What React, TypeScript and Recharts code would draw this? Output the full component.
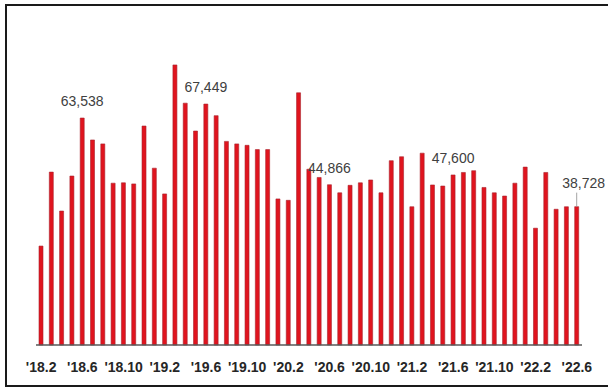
import { BarChart, Bar, XAxis, YAxis, LabelList } from "recharts";

// monthly series, Feb 2018 – Jun 2022
const months = [
  "'18.2", "'18.3", "'18.4", "'18.5", "'18.6", "'18.7", "'18.8", "'18.9", "'18.10", "'18.11", "'18.12",
  "'19.1", "'19.2", "'19.3", "'19.4", "'19.5", "'19.6", "'19.7", "'19.8", "'19.9", "'19.10", "'19.11", "'19.12",
  "'20.1", "'20.2", "'20.3", "'20.4", "'20.5", "'20.6", "'20.7", "'20.8", "'20.9", "'20.10", "'20.11", "'20.12",
  "'21.1", "'21.2", "'21.3", "'21.4", "'21.5", "'21.6", "'21.7", "'21.8", "'21.9", "'21.10", "'21.11", "'21.12",
  "'22.1", "'22.2", "'22.3", "'22.4", "'22.5", "'22.6",
];

const values = [
  27700, 48400, 37500, 47300, 63538, 57400, 56300, 45300, 45400, 45100, 61300,
  49500, 42300, 78400, 67700, 59900, 67449, 64200, 57000, 56300, 55900, 54700, 54700,
  40900, 40500, 70600, 49200, 46900, 44866, 42600, 44700, 45400, 46200, 42600, 51600,
  52700, 38700, 53700, 44800, 44500, 47600, 48300, 48800, 44100, 42600, 41700, 45300,
  49800, 32700, 48300, 38000, 38700, 38728,
];

// months that carry a value label
const labeledMonths = ["'18.6", "'19.6", "'20.6", "'21.6", "'22.6"];

const data = months.map((m, i) => ({ month: m, value: values[i] }));

const FONT = "'Liberation Sans', Arial, sans-serif";

function MonthTick(props: any) {
  const { x, y, payload } = props;
  return (
    <text
      x={x}
      y={y + 14}
      textAnchor="middle"
      dominantBaseline="central"
      fontFamily={FONT}
      fontSize={14}
      fontWeight={700}
      fill="#262626"
    >
      {payload.value}
    </text>
  );
}

function ValueLabel(props: any) {
  const { x, y, width, index, value } = props;
  if (!labeledMonths.includes(months[index])) return null;
  const cx = Number(x) + Number(width) / 2;
  const top = Number(y);
  const text = Number(value).toLocaleString("en-US");
  const last = index === months.length - 1;
  if (last) {
    // pulled up and to the right, with a leader line back to the bar
    return (
      <g>
        <line x1={cx} y1={top - 14} x2={cx} y2={top} stroke="#8c8c8c" strokeWidth={0.8} />
        <text
          x={cx + 7}
          y={top - 24}
          textAnchor="middle"
          dominantBaseline="central"
          fontFamily={FONT}
          fontSize={14}
          fill="#404040"
        >
          {text}
        </text>
      </g>
    );
  }
  return (
    <text
      x={cx}
      y={top - 17}
      textAnchor="middle"
      dominantBaseline="central"
      fontFamily={FONT}
      fontSize={14}
      fill="#404040"
    >
      {text}
    </text>
  );
}

export default function App() {
  return (
    <div style={{ position: "absolute", left: 0, top: 0, width: 608, height: 389, background: "#fff", overflow: "hidden" }}>
      <div
        style={{
          position: "absolute",
          left: 5,
          top: 4,
          width: 603,
          height: 383,
          boxSizing: "border-box",
          borderLeft: "2px solid #1a1a1a",
          borderTop: "2px solid #1a1a1a",
          borderBottom: "2px solid #1a1a1a",
        }}
      />
      <div style={{ position: "absolute", left: 0, top: 0 }}>
        <BarChart
          width={608}
          height={389}
          data={data}
          margin={{ top: 23.5, right: 26, bottom: 14, left: 36 }}
          barCategoryGap={0}
        >
          <YAxis hide domain={[0, 90000]} />
          <XAxis
            dataKey="month"
            interval={3}
            tick={<MonthTick />}
            tickLine={false}
            height={30}
            axisLine={{ stroke: "#595959", strokeWidth: 1.5 }}
          />
          <Bar dataKey="value" barSize={4} fill="#e0141e" stroke="#a8242e" strokeWidth={0.6} isAnimationActive={false}>
            <LabelList dataKey="value" content={<ValueLabel />} />
          </Bar>
        </BarChart>
      </div>
    </div>
  );
}
